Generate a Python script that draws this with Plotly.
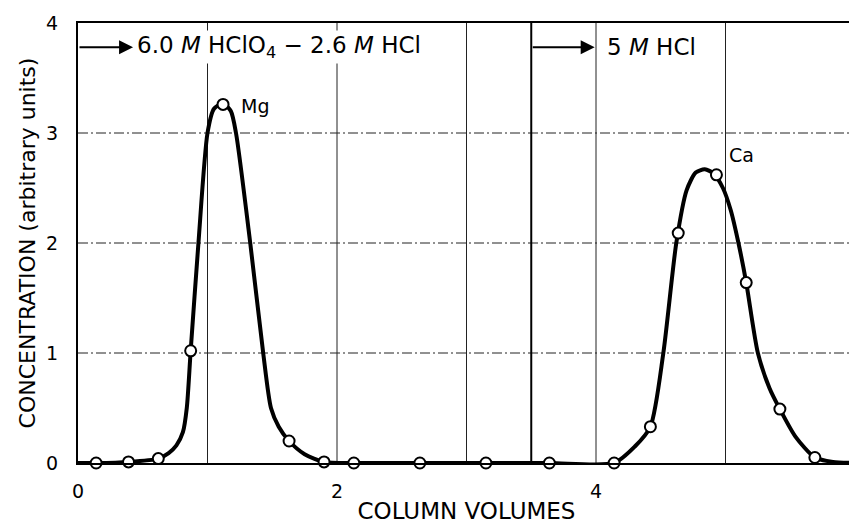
import plotly.graph_objects as go

# Measured points (open circles)
point_x = [0.14, 0.39, 0.62, 0.87, 1.12, 1.63, 1.90, 2.13, 2.64, 3.15, 3.64, 4.14, 4.42, 4.635, 4.93, 5.16, 5.42, 5.69]
point_y = [0.0, 0.01, 0.04, 1.02, 3.26, 0.20, 0.01, 0.0, 0.0, 0.0, 0.0, 0.0, 0.33, 2.09, 2.62, 1.64, 0.49, 0.05]

# Hand-drawn elution curve
curve_x = [0.0, 0.14, 0.39, 0.62, 0.70, 0.76, 0.81, 0.84, 0.87, 0.93, 1.00, 1.05, 1.12, 1.18, 1.22, 1.33, 1.43, 1.49, 1.55,
           1.63, 1.75, 1.90, 2.13, 2.64, 3.15, 3.64, 4.14, 4.30, 4.42, 4.52, 4.62, 4.70, 4.77, 4.84, 4.91, 4.98, 5.04,
           5.10, 5.16, 5.25, 5.34, 5.42, 5.54, 5.69, 5.83, 6.0]
curve_y = [0.0, 0.0, 0.01, 0.04, 0.09, 0.16, 0.28, 0.50, 1.02, 2.0, 3.0, 3.22, 3.27, 3.2, 3.0, 2.0, 1.0, 0.5, 0.33,
           0.20, 0.08, 0.01, 0.0, 0.0, 0.0, 0.0, 0.0, 0.15, 0.33, 1.0, 2.0, 2.48, 2.64, 2.67, 2.63, 2.5, 2.3,
           2.0, 1.64, 1.0, 0.68, 0.49, 0.24, 0.05, 0.01, 0.0]

x_ticks = [0, 2, 4, 6]
y_ticks = [0, 1, 2, 3, 4]
switch_x = 3.5

FONT = "DejaVu Sans"

fig = go.Figure()

fig.add_trace(go.Scatter(x=curve_x, y=curve_y, mode="lines",
                         line=dict(color="black", width=4, shape="spline", smoothing=0.7),
                         hoverinfo="skip", showlegend=False, cliponaxis=False))
fig.add_trace(go.Scatter(x=point_x, y=point_y, mode="markers",
                         marker=dict(symbol="circle", size=11, color="white",
                                     line=dict(color="black", width=2)),
                         showlegend=False, cliponaxis=False))

# vertical gridlines
for gx in [1, 2, 3, 4, 5]:
    fig.add_shape(type="line", x0=gx, x1=gx, y0=0, y1=4, xref="x", yref="y",
                  line=dict(color="#222", width=1), layer="below")
# horizontal gridlines
for gy in [1, 2, 3]:
    fig.add_shape(type="line", x0=0, x1=6, y0=gy, y1=gy, xref="x", yref="y",
                  line=dict(color="#222", width=1, dash="10px,3px,2px,3px"), layer="below")
# eluent switch line
fig.add_shape(type="line", x0=switch_x, x1=switch_x, y0=0, y1=4, xref="x", yref="y",
              line=dict(color="black", width=2), layer="below")

# arrows
fig.add_annotation(x=0.425, y=3.78, ax=0.0, ay=3.78, axref="x", ayref="y", xref="x", yref="y",
                   text="", showarrow=True, arrowhead=2, arrowsize=1.4, arrowwidth=2, arrowcolor="black")
fig.add_annotation(x=3.99, y=3.78, ax=switch_x, ay=3.78, axref="x", ayref="y", xref="x", yref="y",
                   text="", showarrow=True, arrowhead=2, arrowsize=1.4, arrowwidth=2, arrowcolor="black")

fig.add_annotation(x=0.44, y=3.78, xref="x", yref="y", xanchor="left", yanchor="middle",
                   text="6.0 <i>M</i> HClO<sub>4</sub> − 2.6 <i>M</i> HCl", showarrow=False,
                   font=dict(family=FONT, size=23, color="black"), bgcolor="white")
fig.add_annotation(x=4.07, y=3.78, xref="x", yref="y", xanchor="left", yanchor="middle",
                   text="5 <i>M</i> HCl", showarrow=False,
                   font=dict(family=FONT, size=23, color="black"), bgcolor="white")
fig.add_annotation(x=1.37, y=3.25, xref="x", yref="y", text="Mg", showarrow=False,
                   font=dict(family=FONT, size=19, color="black"))
fig.add_annotation(x=5.12, y=2.8, xref="x", yref="y", text="Ca", showarrow=False,
                   font=dict(family=FONT, size=19, color="black"), bgcolor="white")

# The page body adds an 8px offset, so the figure is sized to land the plot box
# where it is in the reference.
fig.update_layout(
    width=849, height=516,
    margin=dict(l=70, r=2, t=15, b=61),
    paper_bgcolor="white", plot_bgcolor="white",
    font=dict(family=FONT, color="black"),
    showlegend=False,
)
fig.update_xaxes(range=[0, 6], tickvals=x_ticks, ticktext=[str(v) for v in x_ticks],
                 showgrid=False, zeroline=False, showline=True, mirror=True, automargin=False,
                 linecolor="black", linewidth=2, ticks="outside", ticklen=10,
                 tickcolor="rgba(0,0,0,0)", tickfont=dict(size=19), ticklabeloverflow="allow",
                 title=dict(text="COLUMN VOLUMES", font=dict(size=23), standoff=2))
fig.update_yaxes(range=[0, 4], tickvals=y_ticks, ticktext=[str(v) for v in y_ticks],
                 showgrid=False, zeroline=False, showline=True, mirror=True, automargin=False,
                 linecolor="black", linewidth=2, ticks="outside", ticklen=14,
                 tickcolor="rgba(0,0,0,0)", tickfont=dict(size=19), ticklabeloverflow="allow",
                 title=dict(text="CONCENTRATION (arbitrary units)", font=dict(size=22), standoff=4))

fig.write_html("out.html")
